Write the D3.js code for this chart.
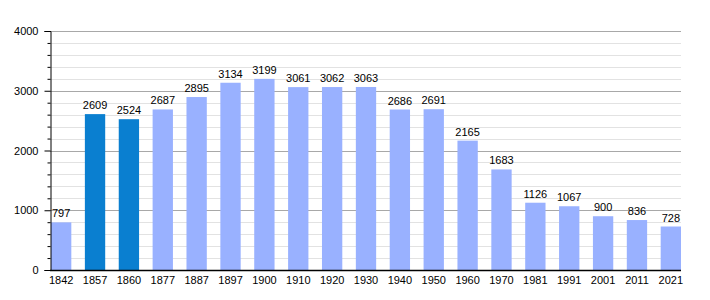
<!DOCTYPE html>
<html lang="en">
<head>
<meta charset="UTF-8">
<title>Population</title>
<script src="https://d3js.org/d3.v7.min.js"></script>
<style>
  body { margin: 0; background: #fff; font-family: "Liberation Sans", Arial, sans-serif; }
</style>
</head>
<body>
<div id="chart"></div>
<script>
// Data
const years = ["1842", "1857", "1860", "1877", "1887", "1897", "1900", "1910", "1920", "1930",
               "1940", "1950", "1960", "1970", "1981", "1991", "2001", "2011", "2021"];
const population = [797, 2609, 2524, 2687, 2895, 3134, 3199, 3061, 3062, 3063,
                    2686, 2691, 2165, 1683, 1126, 1067, 900, 836, 728];
const highlighted = ["1857", "1860"];
const majorTicks = [0, 1000, 2000, 3000, 4000];
const minorTicks = d3.range(0, 4001, 200);

const width = 710, height = 300;
const plotLeft = 50, plotRight = 681, plotTop = 31, plotBottom = 270;

const svg = d3.select("#chart").append("svg")
  .attr("width", width)
  .attr("height", height);

const x = d3.scaleBand()
  .domain(years)
  .range([plotLeft + 1, plotRight])
  .paddingInner(0.4)
  .paddingOuter(0);

const y = d3.scaleLinear()
  .domain([0, 4000])
  .range([plotBottom, plotTop]);

// minor grid
svg.append("g").selectAll("line")
  .data(minorTicks.filter(d => d % 1000 !== 0))
  .enter().append("line")
  .attr("x1", plotLeft).attr("x2", plotRight)
  .attr("y1", d => Math.round(y(d)) + 0.5).attr("y2", d => Math.round(y(d)) + 0.5)
  .attr("stroke", "#e2e2e2");

// major grid
svg.append("g").selectAll("line")
  .data(majorTicks.filter(d => d > 0))
  .enter().append("line")
  .attr("x1", plotLeft).attr("x2", plotRight)
  .attr("y1", d => Math.round(y(d)) + 0.5).attr("y2", d => Math.round(y(d)) + 0.5)
  .attr("stroke", "#a8a8a8");

// bars
svg.append("g").selectAll("rect")
  .data(years)
  .enter().append("rect")
  .attr("x", (d) => x(d))
  .attr("width", x.bandwidth())
  .attr("y", (d, i) => y(population[i]))
  .attr("height", (d, i) => plotBottom - y(population[i]))
  .attr("fill", d => highlighted.includes(d) ? "#0a7fd0" : "#99b1ff");

// value labels
svg.append("g").selectAll("text")
  .data(years)
  .enter().append("text")
  .attr("x", d => x(d) + x.bandwidth() / 2)
  .attr("y", (d, i) => y(population[i]) - 5)
  .attr("text-anchor", "middle")
  .attr("font-size", "11px")
  .attr("fill", "#000")
  .text((d, i) => population[i]);

// y axis
const yAxis = svg.append("g")
  .attr("transform", `translate(${plotLeft + 0.5},0)`)
  .call(d3.axisLeft(y).tickValues(majorTicks).tickSize(6).tickFormat(d3.format("d")));
yAxis.select(".domain").attr("stroke", "#000");
yAxis.selectAll("text").attr("font-size", "11px").attr("font-family", "Liberation Sans, Arial, sans-serif").attr("x", -12);

svg.append("g")
  .attr("transform", `translate(${plotLeft + 0.5},0)`)
  .call(d3.axisLeft(y).tickValues(minorTicks.filter(d => d % 1000 !== 0)).tickSize(3).tickFormat(""))
  .call(g => g.select(".domain").remove());

// x axis
const xAxis = svg.append("g")
  .attr("transform", `translate(0,${plotBottom + 0.5})`)
  .call(d3.axisBottom(x).tickSize(0).tickPadding(6));
xAxis.select(".domain").attr("d", `M${plotLeft},0H${plotRight}`).attr("stroke", "#000").attr("stroke-width", 1.5);
xAxis.selectAll("text").attr("font-size", "11px").attr("font-family", "Liberation Sans, Arial, sans-serif");
</script>
</body>
</html>
